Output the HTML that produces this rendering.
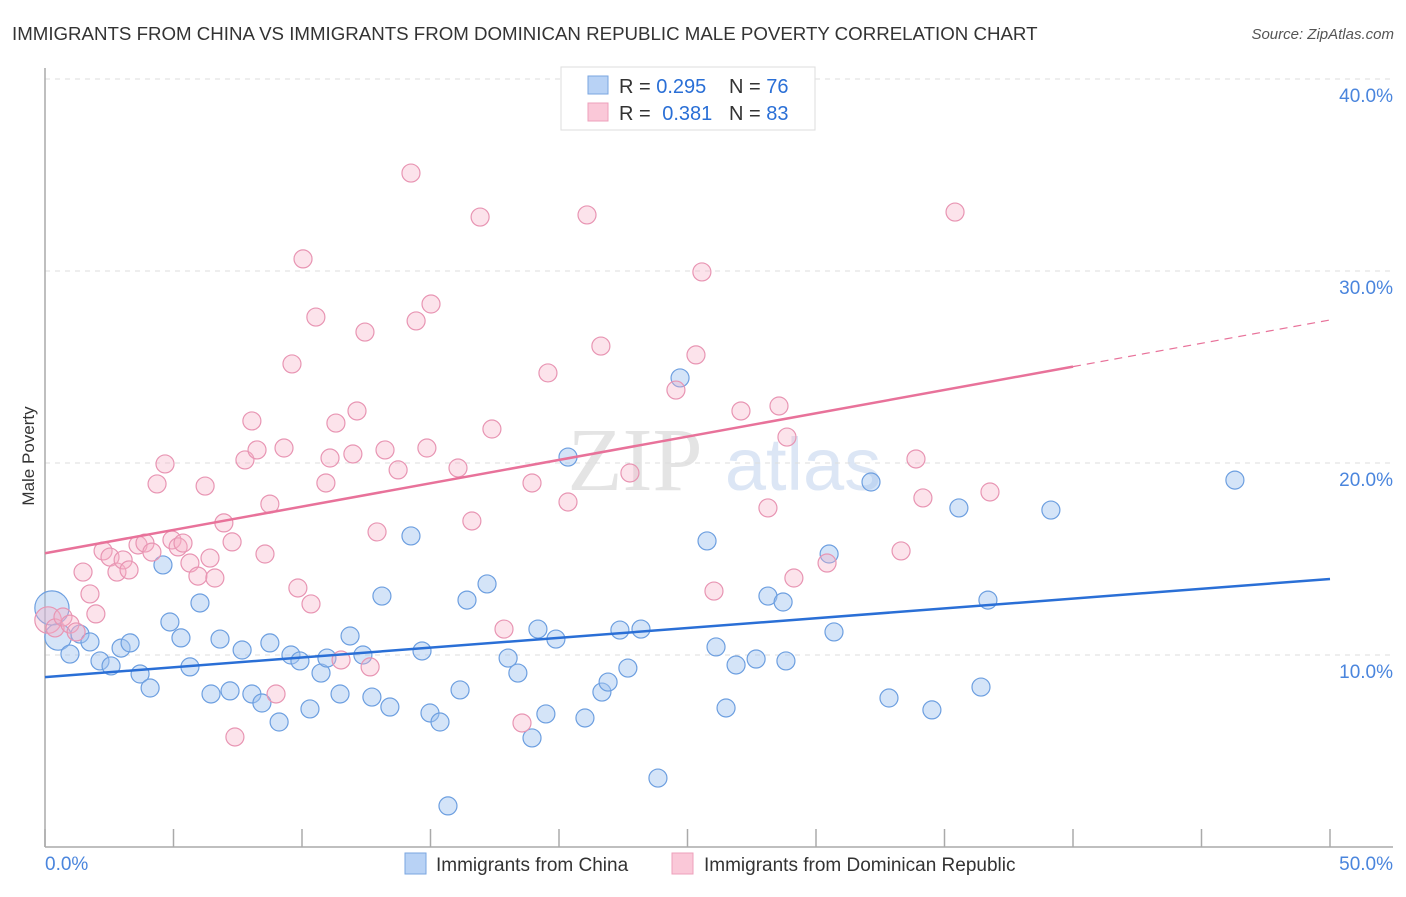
<!DOCTYPE html>
<html><head><meta charset="utf-8"><style>
body{margin:0;background:#fff;font-family:"Liberation Sans",sans-serif;}
</style></head><body>
<svg width="1406" height="892" xmlns="http://www.w3.org/2000/svg" font-family="Liberation Sans, sans-serif">
<text x="12" y="40" font-size="18.7" fill="#333">IMMIGRANTS FROM CHINA VS IMMIGRANTS FROM DOMINICAN REPUBLIC MALE POVERTY CORRELATION CHART</text>
<text x="1394" y="39" font-size="15" fill="#555" font-style="italic" text-anchor="end">Source: ZipAtlas.com</text>
<g>
<text x="635" y="490" font-size="90" fill="#e4e4e4" font-family="Liberation Serif, serif" text-anchor="middle">ZIP</text>
<text x="803" y="490" font-size="74" fill="#dce6f5" text-anchor="middle">atlas</text>
</g>
<g id="grid"></g>
<g id="axes"></g>
<g id="marks"></g>
<text x="34" y="456" font-size="17" fill="#333" transform="rotate(-90 34 456)" text-anchor="middle">Male Poverty</text>
<g>
<rect x="561" y="67" width="254" height="63" fill="#fff" stroke="#ddd"/>
<rect x="588" y="76" width="20" height="18" fill="#b8d2f5" stroke="#7aa6e0"/>
<rect x="588" y="103" width="20" height="18" fill="#fac8d8" stroke="#eea0bb"/>
<text x="619" y="93" font-size="20" fill="#333">R = <tspan fill="#2a6fd6">0.295</tspan><tspan x="729">N = </tspan><tspan fill="#2a6fd6">76</tspan></text>
<text x="619" y="120" font-size="20" fill="#333">R = <tspan fill="#2a6fd6" dx="6">0.381</tspan><tspan x="729">N = </tspan><tspan fill="#2a6fd6">83</tspan></text>
</g>
<g>
<rect x="405" y="853" width="21" height="21" fill="#b8d2f5" stroke="#7aa6e0"/>
<text x="436" y="871" font-size="19" fill="#333">Immigrants from China</text>
<rect x="672" y="853" width="21" height="21" fill="#fac8d8" stroke="#eea0bb"/>
<text x="704" y="871" font-size="19" fill="#333">Immigrants from Dominican Republic</text>
</g>
<script>
var xTicks=[0,5,10,15,20,25,30,35,40,45,50];
var yTicks=[10,20,30,40];
var yTickLabels=["10.0%","20.0%","30.0%","40.0%"];
var xEndLabels=["0.0%","50.0%"];
var chinaX=[0.27,0.51,0.97,1.36,1.75,2.14,2.57,2.96,3.31,3.70,4.09,4.59,4.86,5.29,5.64,6.03,6.46,6.81,7.20,7.67,8.05,8.44,8.75,9.11,9.57,9.92,10.31,10.74,10.97,11.48,11.87,12.37,12.72,13.11,13.42,14.24,14.67,14.98,15.37,15.68,16.15,16.42,17.20,18.02,18.40,19.18,19.49,19.88,18.95,20.35,21.01,21.67,21.91,22.37,22.68,23.19,23.85,24.71,25.76,26.11,26.50,26.89,27.67,28.13,28.72,28.83,30.51,30.70,32.14,32.84,34.51,35.56,36.42,36.69,39.14,46.30];
var chinaY=[12.45,10.94,10.05,11.09,10.68,9.69,9.43,10.36,10.63,9.01,8.28,14.69,11.72,10.89,9.38,12.71,7.97,10.83,8.13,10.26,7.97,7.50,10.63,6.51,10.00,9.69,7.19,9.06,9.84,7.97,10.99,10.00,7.81,13.07,7.29,16.20,10.21,6.98,6.51,2.14,8.18,12.86,13.70,9.84,9.06,11.35,6.93,10.83,5.68,20.31,6.72,8.07,8.59,11.30,9.32,11.35,3.59,24.43,15.94,10.42,7.24,9.48,9.79,13.07,12.76,9.69,15.26,11.20,19.01,7.76,7.14,17.66,8.33,12.86,17.55,19.11];
var chinaW=[5,3];
var domX=[0.12,0.39,0.70,0.97,1.21,1.48,1.75,1.98,2.26,2.53,2.80,3.04,3.27,3.62,3.89,4.16,4.36,4.67,4.94,5.18,5.37,5.64,5.95,6.23,6.42,6.61,6.96,7.28,7.39,7.78,8.05,8.25,8.56,8.75,8.99,9.30,9.61,9.84,10.04,10.35,10.54,10.93,11.09,11.32,11.52,11.98,12.14,12.45,12.65,12.92,13.23,13.74,14.24,14.44,14.86,15.02,16.07,16.61,16.93,17.39,17.86,18.56,18.95,19.57,20.35,21.09,21.63,22.76,24.55,25.33,25.56,26.03,27.08,28.13,28.56,28.87,29.14,30.43,33.31,33.89,34.16,35.41,36.77];
var domY=[11.82,11.41,11.98,11.61,11.20,14.32,13.18,12.14,15.42,15.10,14.32,14.95,14.43,15.73,15.83,15.36,18.91,19.95,15.99,15.63,15.83,14.79,14.11,18.80,15.05,14.01,16.88,15.89,5.73,20.16,22.19,20.68,15.26,17.86,7.97,20.78,25.16,13.49,30.63,12.66,27.60,18.96,20.26,22.08,9.74,20.47,22.71,26.82,9.38,16.41,20.68,19.64,35.10,27.40,20.78,28.28,19.74,16.98,32.81,21.77,11.35,6.46,18.96,24.69,17.97,32.92,26.09,19.48,23.80,25.63,29.95,13.33,22.71,17.66,22.97,21.35,14.01,14.79,15.42,20.21,18.18,33.07,18.49];
var domW=[3];
var chinaTrend=[8.85,13.96];
var domTrend=[15.3,27.45];
var domSolidEnd=40;

var NS="http://www.w3.org/2000/svg";
function X(v){return 45+v*25.7;}
function Y(v){return 847-v*19.2;}
function mk(tag,attrs,parent){var e=document.createElementNS(NS,tag);for(var k in attrs)e.setAttribute(k,attrs[k]);parent.appendChild(e);return e;}
var grid=document.getElementById('grid'),axes=document.getElementById('axes'),marks=document.getElementById('marks');
yTicks.forEach(function(t,i){
 var l=mk('line',{x1:45,x2:1393,y1:Y(t),y2:Y(t),stroke:'#ddd','stroke-dasharray':'5,5'},grid);
 
 
 var tx=mk('text',{x:1393,y:Y(t)+23,'font-size':19,fill:'#4a85dd','text-anchor':'end'},axes);
 tx.textContent=yTickLabels[i];
 
 
});
var ax=mk('line',{x1:45,x2:45,y1:68,y2:847,stroke:'#aaa','stroke-width':1.5},axes);


var bx=mk('line',{x1:45,x2:1393,y1:847,y2:847,stroke:'#aaa','stroke-width':1.5},axes);


xTicks.forEach(function(t){
 var tk=mk('line',{x1:X(t),x2:X(t),y1:829,y2:847,stroke:'#aaa','stroke-width':1.5},axes);
 
 
});
var xl0=mk('text',{x:45,y:870,'font-size':19,fill:'#4a85dd'},axes);xl0.textContent=xEndLabels[0];


var xl1=mk('text',{x:1393,y:870,'font-size':19,fill:'#4a85dd','text-anchor':'end'},axes);xl1.textContent=xEndLabels[1];


function pts(xs,ys,ws,fill,stroke,name){
 xs.forEach(function(v,i){
  var w=ws[i]||1;var r=9*Math.sqrt(w)*(w>1?0.85:1);
  var c=mk('circle',{cx:X(v),cy:Y(ys[i]),r:r,fill:fill,stroke:stroke,'stroke-width':1.2},marks);
  
  
 });
}
pts(chinaX,chinaY,chinaW,'rgba(160,195,240,0.45)','#6d9fe0','china-point');
pts(domX,domY,domW,'rgba(246,175,198,0.35)','#e895b3','dominican-point');
var bl=mk('line',{x1:X(0),y1:Y(chinaTrend[0]),x2:X(50),y2:Y(chinaTrend[1]),stroke:'#2a6fd6','stroke-width':2.5},marks);


var dy=function(x){return domTrend[0]+(domTrend[1]-domTrend[0])*x/50;};
var pl=mk('line',{x1:X(0),y1:Y(dy(0)),x2:X(domSolidEnd),y2:Y(dy(domSolidEnd)),stroke:'#e8729a','stroke-width':2.5},marks);


var pd=mk('line',{x1:X(domSolidEnd),y1:Y(dy(domSolidEnd)),x2:X(50),y2:Y(dy(50)),stroke:'#e8729a','stroke-width':1.2,'stroke-dasharray':'8,6'},marks);


</script>
</svg>
</body></html>
